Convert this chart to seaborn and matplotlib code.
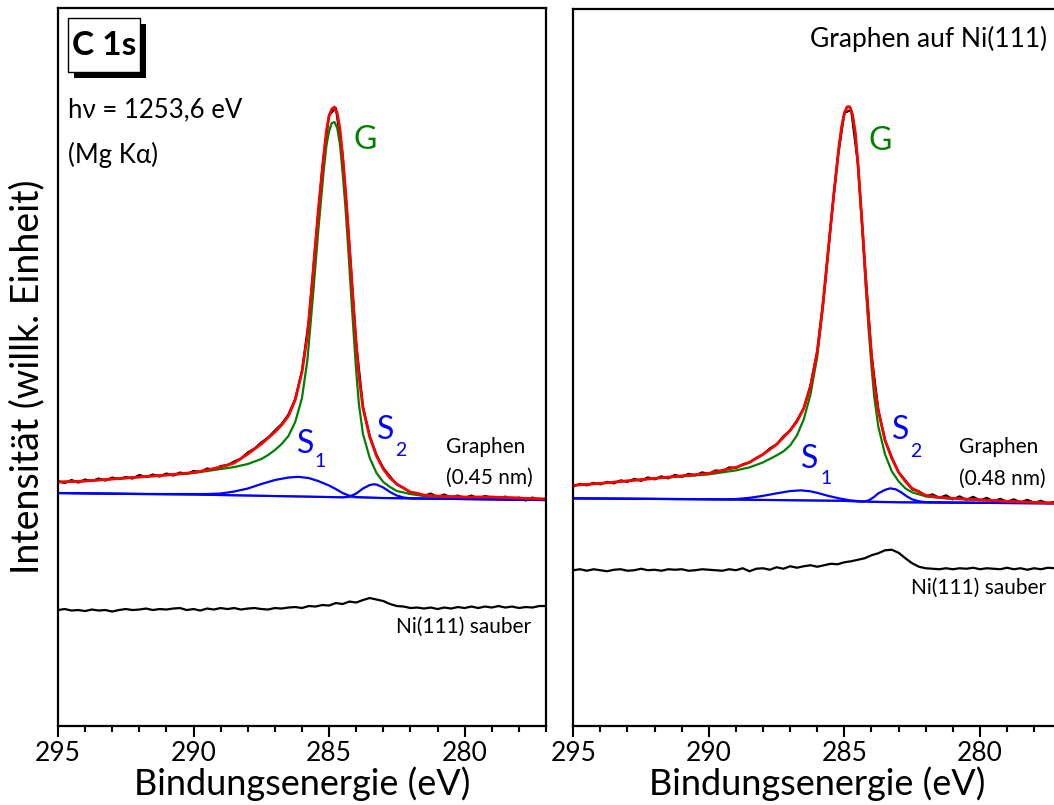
import numpy as np
import matplotlib
matplotlib.use("Agg")
import matplotlib.pyplot as plt
from matplotlib.patches import Rectangle
from matplotlib.ticker import MultipleLocator
import seaborn as sns

# measured spectra: 295 -> 277 eV in 0.25 eV steps
E_meas = np.linspace(295, 277, 73)

graphen_left = [
    245, 243, 246, 243.5, 246.5, 245, 247.5, 245.5, 248.5, 247, 249, 247.5,
    251, 249, 251.5, 249.5, 252.5, 250.5, 253.5, 252, 255, 254, 257.5, 256.5,
    260, 261, 264.5, 267.5, 273.5, 277.5, 283.5, 288.5, 295.5, 302, 311.5, 327,
    355, 405, 483, 558, 611, 618, 571, 480, 383, 319, 290, 271,
    258, 249.5, 241.5, 238, 233.5, 233, 230, 232.5, 229, 231.5, 228.5, 230.5,
    228, 230.5, 227.5, 230, 228.5, 226.5, 229.5, 226, 228.5, 225.5, 228.5, 226,
    227.5,
]
graphen_right = [
    240, 242.5, 241, 243.5, 242, 244.5, 243, 246, 244.5, 247.5, 245.5, 249,
    247, 250, 248, 251.5, 249.5, 252.5, 251, 254, 252.5, 256, 255, 259,
    258.5, 262, 264, 268.5, 272, 278, 282, 290, 296, 306, 318, 341,
    375, 433, 503, 568, 614, 617, 563, 464, 372, 317, 286, 269,
    254, 246, 237, 235, 230, 232, 228.5, 231, 227, 230, 226.5, 229.5,
    226, 228.5, 225, 227.5, 224.5, 227, 224, 226.5, 223.5, 225.5, 223, 224.5,
    222.5,
]
ni_left = [
    116, 117, 115.5, 116, 115, 116.5, 115.5, 116, 114.5, 116, 117, 116,
    116.5, 117.5, 116, 117, 116.5, 117.5, 118, 116, 117, 115.5, 117.5, 116.5,
    118, 117, 118, 116.5, 117.5, 118, 117, 116.5, 118, 117.5, 118.5, 119,
    118, 120, 119.5, 121, 120.5, 123, 122, 124.5, 123.5, 126, 128, 126.5,
    125, 122, 120, 119.5, 118, 118.5, 117.5, 118.5, 117, 118.5, 117.5, 119,
    118, 119.5, 118, 119.5, 118.5, 120, 118.5, 119.5, 118, 119, 118.5, 120,
    120,
]
ni_right = [
    156, 157, 155.5, 157, 156, 155, 156.5, 157, 155.5, 156, 157.5, 156,
    156.5, 155.5, 157, 156.5, 157, 155.5, 156, 157, 156.5, 156, 155.5, 157,
    156, 158, 155, 157.5, 158, 156.5, 159, 157.5, 160, 158.5, 160, 161,
    159.5, 161, 162.5, 162, 164, 165, 166.5, 168, 171, 173, 176, 176.5,
    173.5, 168, 163, 159.5, 158, 157.5, 157, 158, 157, 158, 157.5, 158.5,
    157, 158, 157.5, 157, 158.5, 157, 158, 156.5, 158, 157, 158.5, 158,
    159,
]

# fit curves (total fit and G component incl. background)
E_fit = [295, 294, 293, 292, 291, 290, 289.5, 289, 288.5, 288, 287.5,
         287.25, 287, 286.75, 286.5, 286.25, 286, 285.8, 285.6, 285.4, 285.2,
         285.1, 285.0, 284.9, 284.8, 284.7, 284.6, 284.5, 284.4, 284.3, 284.2,
         284.1, 284.0, 283.9, 283.75, 283.5, 283.25, 283.0, 282.75, 282.5,
         282.0, 281.5, 281, 280, 279, 278, 277]

fit_left = [244, 245, 247, 249, 251, 253.5, 256, 259, 263, 272, 282,
            288, 294, 301, 310, 326, 354, 390, 450, 515, 570,
            595, 610, 617, 619, 613, 597, 570, 538, 500, 460,
            419, 382, 350, 318, 289, 270, 257, 248, 242,
            234, 231, 230, 229, 229, 228, 227]
g_left = [244, 245, 247, 249, 251, 253, 255, 257, 259, 262, 267,
          271, 276, 282, 290, 304, 328, 366, 428, 495, 555,
          580, 595, 603, 604, 598, 582, 553, 520, 480, 437,
          395, 355, 322, 292, 268, 253, 244, 239, 235,
          232, 230, 229.5, 229, 229, 228, 227]
fit_right = [241, 243, 245.5, 248, 250.5, 253, 256, 259, 264, 272, 282,
             289, 296, 305, 318, 340, 375, 420, 475, 530, 580,
             600, 614, 620, 620, 612, 594, 563, 525, 485, 442,
             405, 372, 343, 316, 286, 268, 254, 245, 238,
             231, 229, 228, 226.5, 225, 224, 223]
g_right = [241, 243, 245.5, 248, 250, 252, 254, 256, 259, 264, 271,
           275, 281, 291, 307, 332, 370, 418, 474, 530, 580,
           600, 614, 620, 620, 612, 594, 562, 522, 480, 435,
           395, 360, 330, 300, 272, 255, 245, 238, 234,
           230, 228.5, 227.5, 226.5, 225, 224, 223]

# S1, S2 components (on top of background) and background
s1_left_e = [295, 292, 289.5, 289, 288.5, 288, 287.5, 287, 286.5, 286.13,
             285.75, 285.4, 285, 284.75, 284.5, 284.25, 284, 283, 280, 277]
s1_left = [233, 232, 232, 232.5, 234.5, 237.5, 242, 246, 248.5, 249.2,
           248, 245, 240.5, 237, 233, 230.3, 229, 228, 227, 226]
s2_left_e = [295, 290, 285, 284.5, 284.25, 284.0, 283.75, 283.5, 283.36,
             283.25, 283.0, 282.75, 282.5, 282.25, 282.0, 280, 277]
s2_left = [233, 231.5, 229, 228.7, 229.5, 232.5, 237.5, 241, 241.7,
           241.5, 238.5, 234, 230.5, 228.5, 227.7, 227, 226]
bg_left_e = [295, 290, 285, 282, 280, 277]
bg_left = [233, 231.5, 229, 227.5, 227, 226]

s1_right_e = [295, 292, 289.5, 289, 288.5, 288, 287.5, 287, 286.6, 286.25,
              286, 285.6, 285.2, 284.8, 284.4, 284, 283, 280, 277]
s1_right = [228, 227.5, 227, 227.3, 228.5, 230.5, 233, 235.3, 236, 235,
            233.5, 230.5, 228, 226, 225, 224.5, 224, 223.5, 223]
s2_right_e = [295, 290, 285, 284.3, 284.1, 283.9, 283.75, 283.5, 283.31,
              283.1, 282.9, 282.7, 282.5, 282.25, 282, 280, 277]
s2_right = [228, 227, 225.5, 224.6, 226, 229.5, 233, 236.5, 238,
            237, 234, 230, 227, 225, 224.2, 223.5, 223]
bg_right_e = [295, 290, 285, 283, 280, 277]
bg_right = [228, 227, 225.5, 224.2, 223.5, 223]

sns.set_style("ticks")
plt.rcParams["font.family"] = ["Lato", "DejaVu Sans"]
plt.rcParams["axes.linewidth"] = 1.6
plt.rcParams["text.color"] = "black"
plt.rcParams["axes.labelcolor"] = "black"
plt.rcParams["xtick.color"] = "black"
plt.rcParams["axes.edgecolor"] = "black"

fig = plt.figure(figsize=(10.54, 8.05), dpi=100)
ax1 = fig.add_axes([0.0550, 0.0981, 0.4630, 0.8919])
ax2 = fig.add_axes([0.5439, 0.0981, 0.4630, 0.8907])


def curve(ax, e, y, color, lw):
    sns.lineplot(x=e, y=y, ax=ax, color=color, linewidth=lw, estimator=None)


panels = [
    (ax1, graphen_left, ni_left, fit_left, g_left, s1_left_e, s1_left,
     s2_left_e, s2_left, bg_left_e, bg_left),
    (ax2, graphen_right, ni_right, fit_right, g_right, s1_right_e, s1_right,
     s2_right_e, s2_right, bg_right_e, bg_right),
]
for ax, gr, ni, fit, g, s1e, s1, s2e, s2, bge, bg in panels:
    curve(ax, E_meas, ni, "black", 1.6)
    curve(ax, E_meas, gr, "black", 1.6)
    curve(ax, bge, bg, "gray", 1.4)
    curve(ax, s1e, s1, "#0000ff", 1.6)
    curve(ax, s2e, s2, "#0000ff", 1.6)
    curve(ax, E_fit, g, "#008000", 1.6)
    curve(ax, E_fit, fit, "#ff0000", 2.0)

    ax.set_xlim(295, 277)
    ax.set_ylim(0, 718)
    ax.xaxis.set_major_locator(MultipleLocator(5))
    ax.xaxis.set_minor_locator(MultipleLocator(1))
    ax.set_yticks([])
    ax.tick_params(axis="x", which="major", direction="out", length=8,
                   width=1.5, labelsize=19, pad=3, color="black",
                   labelcolor="black")
    ax.tick_params(axis="x", which="minor", direction="out", length=4,
                   width=1.5, color="black")
    ax.set_xlabel("Bindungsenergie (eV)", fontsize=26, labelpad=0,
                  color="black")
    ax.set_ylabel("")
    for sp in ax.spines.values():
        sp.set_visible(True)
        sp.set_color("black")

ax1.set_ylabel("Intensität (willk. Einheit)", fontsize=27, color="black")
ax1.yaxis.set_label_coords(-0.025, 0.487)

# left panel annotations
shadow = Rectangle((0.0205 + 0.0123, 0.911 - 0.0084), 0.1475, 0.075,
                   transform=ax1.transAxes, facecolor="black", edgecolor="none",
                   zorder=5)
box = Rectangle((0.0205, 0.911), 0.1475, 0.075, transform=ax1.transAxes,
                facecolor="white", edgecolor="black", linewidth=1.0, zorder=6)
ax1.add_patch(shadow)
ax1.add_patch(box)
ax1.text(0.0943, 0.9485, "C 1s", transform=ax1.transAxes, fontsize=24,
         fontweight="bold", ha="center", va="center", zorder=7)
ax1.text(0.0205, 0.858, "hν = 1253,6 eV", transform=ax1.transAxes,
         fontsize=18.5, ha="left", va="center")
ax1.text(0.0205, 0.795, "(Mg Kα)", transform=ax1.transAxes,
         fontsize=18.5, ha="left", va="center")

labels = [
    (ax1, 283.66, 586, (285.88, 282), (285.32, 265), (282.92, 296),
     (282.37, 276), 280.67, "(0.45 nm)", (277.53, 99)),
    (ax2, 283.68, 586, (286.27, 267), (285.68, 248), (282.91, 296),
     (282.36, 275), 280.77, "(0.48 nm)", (277.56, 138)),
]
for ax, gx, gy, s1p, s1s, s2p, s2s, gpx, thick, nip in labels:
    ax.text(gx, gy, "G", color="#008000", fontsize=23, ha="center", va="center")
    ax.text(*s1p, "S", color="#0000ff", fontsize=23, ha="center", va="center")
    ax.text(*s1s, "1", color="#0000ff", fontsize=14, ha="center", va="center")
    ax.text(*s2p, "S", color="#0000ff", fontsize=23, ha="center", va="center")
    ax.text(*s2s, "2", color="#0000ff", fontsize=14, ha="center", va="center")
    ax.text(gpx, 279, "Graphen", fontsize=15, ha="left", va="center")
    ax.text(gpx, 248, thick, fontsize=15, ha="left", va="center")
    ax.text(*nip, "Ni(111) sauber", fontsize=15, ha="right", va="center")

ax2.text(277.52, 688, "Graphen auf Ni(111)", fontsize=19, ha="right",
         va="center")

fig.savefig("out.png", dpi=100)
